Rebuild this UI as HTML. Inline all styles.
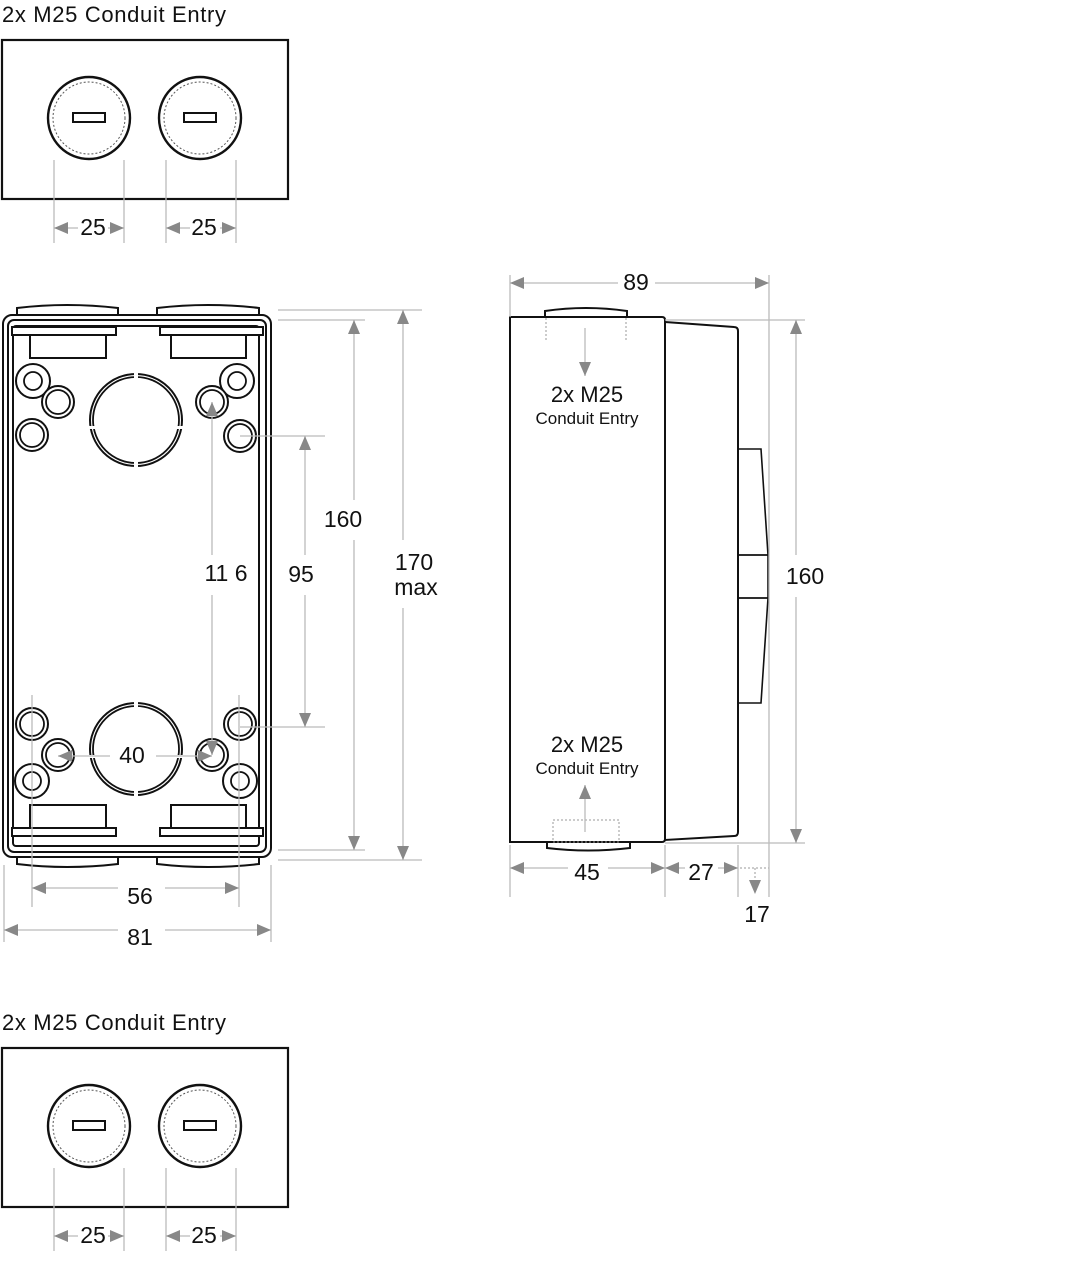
<!DOCTYPE html>
<html><head><meta charset="utf-8"><style>
html,body{margin:0;padding:0;background:#fff}
svg{display:block}
text{font-family:"Liberation Sans",sans-serif;fill:#111}
</style></head><body>
<svg width="1072" height="1284" viewBox="0 0 1072 1284" xmlns="http://www.w3.org/2000/svg">
<defs>
<marker id="a" viewBox="0 0 14 12" markerWidth="14" markerHeight="12" refX="14" refY="6" orient="auto-start-reverse" markerUnits="userSpaceOnUse"><path d="M0,0 L14,6 L0,12 z" fill="#888"/></marker>
<g id="cap">
<circle r="41" fill="#fff" stroke="#111" stroke-width="2.4"/>
<circle r="36" fill="none" stroke="#555" stroke-width="1" stroke-dasharray="2,2"/>
<rect x="-16" y="-5" width="32" height="9" fill="#fff" stroke="#111" stroke-width="2"/>
</g>
<g id="ring"><circle r="16" fill="#fff" stroke="#111" stroke-width="2"/><circle r="12" fill="none" stroke="#111" stroke-width="1.8"/></g>
<g id="sring"><circle r="17" fill="#fff" stroke="#111" stroke-width="2"/><circle r="9" fill="none" stroke="#111" stroke-width="1.8"/></g>
<g id="big">
<circle r="46" fill="none" stroke="#111" stroke-width="2"/>
<circle r="43" fill="none" stroke="#111" stroke-width="1.8"/>
<rect x="-2" y="-50" width="4" height="10" fill="#fff"/>
<rect x="-2" y="40" width="4" height="10" fill="#fff"/>
<rect x="-50" y="6" width="10" height="3" fill="#fff"/>
<rect x="40" y="6" width="10" height="3" fill="#fff"/>
</g>
</defs>

<!-- top panel -->
<text x="2" y="22" font-size="22" textLength="224">2x M25 Conduit Entry</text>
<rect x="2" y="40" width="286" height="159" fill="none" stroke="#111" stroke-width="2.2"/>
<g stroke="#bbb" stroke-width="1.3">
<line x1="54" y1="160" x2="54" y2="243"/><line x1="124" y1="160" x2="124" y2="243"/>
<line x1="166" y1="160" x2="166" y2="243"/><line x1="236" y1="160" x2="236" y2="243"/>
</g>
<use href="#cap" x="89" y="118"/><use href="#cap" x="200" y="118"/>
<g stroke="#bbb" stroke-width="1.3" fill="none">
<line x1="54" y1="228" x2="78" y2="228" marker-start="url(#a)"/><line x1="108" y1="228" x2="124" y2="228" marker-end="url(#a)"/>
<line x1="166" y1="228" x2="190" y2="228" marker-start="url(#a)"/><line x1="220" y1="228" x2="236" y2="228" marker-end="url(#a)"/>
</g>
<text x="93" y="235" font-size="23" text-anchor="middle">25</text>
<text x="204" y="235" font-size="23" text-anchor="middle">25</text>

<!-- bottom panel -->
<text x="2" y="1030" font-size="22" textLength="224">2x M25 Conduit Entry</text>
<rect x="2" y="1048" width="286" height="159" fill="none" stroke="#111" stroke-width="2.2"/>
<g stroke="#bbb" stroke-width="1.3">
<line x1="54" y1="1168" x2="54" y2="1251"/><line x1="124" y1="1168" x2="124" y2="1251"/>
<line x1="166" y1="1168" x2="166" y2="1251"/><line x1="236" y1="1168" x2="236" y2="1251"/>
</g>
<use href="#cap" x="89" y="1126"/><use href="#cap" x="200" y="1126"/>
<g stroke="#bbb" stroke-width="1.3" fill="none">
<line x1="54" y1="1236" x2="78" y2="1236" marker-start="url(#a)"/><line x1="108" y1="1236" x2="124" y2="1236" marker-end="url(#a)"/>
<line x1="166" y1="1236" x2="190" y2="1236" marker-start="url(#a)"/><line x1="220" y1="1236" x2="236" y2="1236" marker-end="url(#a)"/>
</g>
<text x="93" y="1243" font-size="23" text-anchor="middle">25</text>
<text x="204" y="1243" font-size="23" text-anchor="middle">25</text>

<!-- front view -->
<g fill="#fff" stroke="#111" stroke-width="2">
<path d="M17,315 L17,308 Q67,302 118,308 L118,315 Z"/>
<path d="M157,315 L157,308 Q208,302 259,308 L259,315 Z"/>
<path d="M17,857 L17,864 Q67,870 118,864 L118,857 Z"/>
<path d="M157,857 L157,864 Q208,870 259,864 L259,857 Z"/>
<rect x="3" y="315" width="268" height="542" rx="9"/>
<rect x="8" y="320" width="258" height="532" rx="6"/>
<rect x="13" y="326" width="246" height="520" rx="3"/>
<rect x="12" y="327" width="104" height="8"/><rect x="30" y="335" width="76" height="23"/>
<rect x="160" y="327" width="103" height="8"/><rect x="171" y="335" width="75" height="23"/>
<rect x="12" y="828" width="104" height="8"/><rect x="30" y="805" width="76" height="23"/>
<rect x="160" y="828" width="103" height="8"/><rect x="171" y="805" width="75" height="23"/>
</g>
<use href="#big" x="136" y="420"/><use href="#big" x="136" y="749"/>
<use href="#sring" x="33" y="381"/><use href="#ring" x="58" y="402"/><use href="#ring" x="32" y="435"/>
<use href="#sring" x="237" y="381"/><use href="#ring" x="212" y="402"/><use href="#ring" x="240" y="436"/>
<use href="#ring" x="32" y="724"/><use href="#ring" x="58" y="755"/><use href="#sring" x="32" y="781"/>
<use href="#ring" x="240" y="724"/><use href="#ring" x="212" y="755"/><use href="#sring" x="240" y="781"/>

<g stroke="#bbb" stroke-width="1.3" fill="none">
<line x1="278" y1="320" x2="365" y2="320"/><line x1="278" y1="850" x2="365" y2="850"/>
<line x1="278" y1="310" x2="422" y2="310"/><line x1="278" y1="860" x2="422" y2="860"/>
<line x1="240" y1="436" x2="325" y2="436"/><line x1="240" y1="727" x2="325" y2="727"/>
<line x1="32" y1="695" x2="32" y2="907"/><line x1="239" y1="695" x2="239" y2="907"/>
<line x1="4" y1="865" x2="4" y2="942"/><line x1="271" y1="865" x2="271" y2="942"/>
<line x1="354" y1="320" x2="354" y2="500" marker-start="url(#a)"/><line x1="354" y1="540" x2="354" y2="850" marker-end="url(#a)"/>
<line x1="403" y1="310" x2="403" y2="540" marker-start="url(#a)"/><line x1="403" y1="608" x2="403" y2="860" marker-end="url(#a)"/>
<line x1="305" y1="436" x2="305" y2="555" marker-start="url(#a)"/><line x1="305" y1="595" x2="305" y2="727" marker-end="url(#a)"/>
<line x1="212" y1="402" x2="212" y2="555" marker-start="url(#a)"/><line x1="212" y1="595" x2="212" y2="755" marker-end="url(#a)"/>
<line x1="58" y1="756" x2="110" y2="756" marker-start="url(#a)"/><line x1="156" y1="756" x2="212" y2="756" marker-end="url(#a)"/>
<line x1="32" y1="888" x2="118" y2="888" marker-start="url(#a)"/><line x1="165" y1="888" x2="239" y2="888" marker-end="url(#a)"/>
<line x1="4" y1="930" x2="118" y2="930" marker-start="url(#a)"/><line x1="165" y1="930" x2="271" y2="930" marker-end="url(#a)"/>
</g>
<text x="343" y="527" font-size="23" text-anchor="middle">160</text>
<text x="414" y="570" font-size="23" text-anchor="middle">170</text>
<text x="416" y="595" font-size="23" text-anchor="middle">max</text>
<text x="301" y="582" font-size="23" text-anchor="middle">95</text>
<text x="226" y="581" font-size="23" text-anchor="middle">11 6</text>
<text x="132" y="763" font-size="23" text-anchor="middle">40</text>
<text x="140" y="904" font-size="23" text-anchor="middle">56</text>
<text x="140" y="945" font-size="23" text-anchor="middle">81</text>

<!-- side view -->
<g fill="#fff" stroke="#111" stroke-width="2">
<path d="M545,317 L545,311 Q586,305 627,311 L627,317 Z"/>
<path d="M547,842 L547,848 Q588,853 630,848 L630,842 Z"/>
<path d="M510,317 L662,317 Q665,317 665,320 L665,839 Q665,842 662,842 L510,842 Z"/>
<path d="M665,322 L734,327 Q738,327 738,331 L738,832 Q738,836 734,836 L665,840 Z"/>
</g>
<g fill="none" stroke="#111">
<path d="M738,449 L761,449 L768,555 L738,555" stroke-width="1.6"/>
<path d="M738,555 L768,555 L768,598 L738,598" stroke-width="1.6"/>
<path d="M738,598 L768,598 L761,703 L738,703" stroke-width="1.6"/>
</g>
<g stroke="#999" stroke-width="1" fill="none" stroke-dasharray="2,2">
<line x1="546" y1="318" x2="546" y2="340"/><line x1="626" y1="318" x2="626" y2="340"/>
<rect x="553" y="820" width="66" height="22"/>
<line x1="740" y1="868" x2="769" y2="868"/><line x1="755" y1="868" x2="755" y2="882"/>
</g>
<g stroke="#bbb" stroke-width="1.3" fill="none">
<line x1="510" y1="275" x2="510" y2="317"/><line x1="769" y1="275" x2="769" y2="897"/>
<line x1="510" y1="283" x2="618" y2="283" marker-start="url(#a)"/><line x1="655" y1="283" x2="769" y2="283" marker-end="url(#a)"/>
<line x1="665" y1="320" x2="805" y2="320"/><line x1="665" y1="843" x2="805" y2="843"/>
<line x1="796" y1="320" x2="796" y2="555" marker-start="url(#a)"/><line x1="796" y1="597" x2="796" y2="843" marker-end="url(#a)"/>
<line x1="585" y1="328" x2="585" y2="376" marker-end="url(#a)"/>
<line x1="585" y1="832" x2="585" y2="785" marker-end="url(#a)"/>
<line x1="510" y1="845" x2="510" y2="897"/><line x1="665" y1="845" x2="665" y2="897"/><line x1="738" y1="845" x2="738" y2="897"/>
<line x1="510" y1="868" x2="568" y2="868" marker-start="url(#a)"/><line x1="608" y1="868" x2="665" y2="868" marker-end="url(#a)"/>
<line x1="665" y1="868" x2="685" y2="868" marker-start="url(#a)"/><line x1="718" y1="868" x2="738" y2="868" marker-end="url(#a)"/>
</g>
<path d="M749,880 L761,880 L755,894 Z" fill="#888"/>
<text x="636" y="290" font-size="23" text-anchor="middle">89</text>
<text x="805" y="584" font-size="23" text-anchor="middle">160</text>
<text x="587" y="402" font-size="22" text-anchor="middle">2x M25</text>
<text x="587" y="424" font-size="17" text-anchor="middle">Conduit Entry</text>
<text x="587" y="752" font-size="22" text-anchor="middle">2x M25</text>
<text x="587" y="774" font-size="17" text-anchor="middle">Conduit Entry</text>
<text x="587" y="880" font-size="23" text-anchor="middle">45</text>
<text x="701" y="880" font-size="23" text-anchor="middle">27</text>
<text x="757" y="922" font-size="23" text-anchor="middle">17</text>
</svg>
</body></html>
